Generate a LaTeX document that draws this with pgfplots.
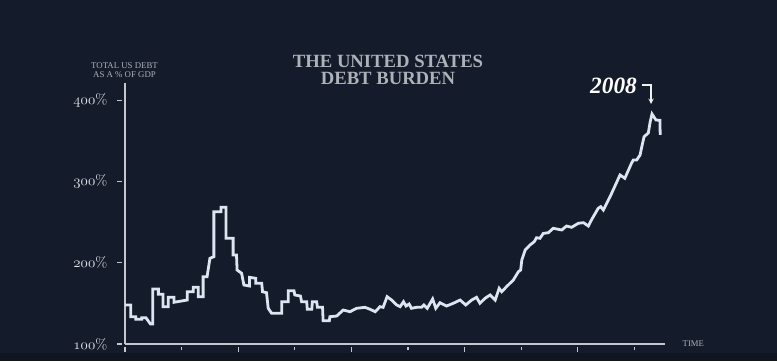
\documentclass[border=0pt]{standalone}
\usepackage{fontspec}
\newfontfamily\titlefont{Liberation Serif}
\usepackage{pgfplots}
\pgfplotsset{compat=1.18}
\definecolor{bg}{HTML}{141B2B}
\definecolor{bgdark}{HTML}{10151F}
\definecolor{linec}{HTML}{DCE6F0}
\definecolor{axisc}{HTML}{C4C8CC}
\definecolor{titlec}{HTML}{AEB2B8}
\definecolor{labc}{HTML}{DDE0E4}
\newcommand{\osn}[1]{$\mathnormal{#1}$}
\begin{document}
\begin{tikzpicture}
\path[use as bounding box] (0,0) rectangle (582.75pt,270.75pt);
\clip (0,0) rectangle (582.75pt,270.75pt);
\fill[bg] (0,0) rectangle (582.75pt,270.75pt);
\fill[bgdark] (0,0) rectangle (582.75pt,6pt);
\begin{axis}[
  at={(93.75pt,12.75pt)}, anchor=south west,
  width=405pt, height=195.75pt, scale only axis,
  xmin=1915, xmax=2010.4, ymin=100, ymax=421,
  axis lines=left,
  axis line style={-, draw=axisc, line width=1.3pt},
  x axis line style={-}, y axis line style={-},
  xtick={1915,1935,1955,1975,1995},
  xticklabels={},
  minor xtick={1925,1945,1965,1985,2005},
  ytick={100,200,300,400},
  yticklabels={\osn{100}\%,\osn{200}\%,\osn{300}\%,\osn{400}\%},
  tick align=outside,
  major tick length=3.75pt, minor tick length=2pt,
  xtick style={draw=axisc, line width=0.8pt, yshift=-2.5pt},
  ytick style={draw=axisc, line width=0.8pt, xshift=-2pt},
  yticklabel style={font=\fontsize{11}{12}\selectfont, text=labc, anchor=east, xshift=-6pt},
  clip=false,
]
\addplot[linec, line width=2.1pt, mark=none] coordinates {
(1915.0,148) (1916.0,148) (1916.0,133.6) (1916.9,133.6) (1916.9,130.4)
(1917.95,130.4) (1917.95,132.3) (1918.7,132.3) (1919.5,124.6) (1919.9,124.6)
(1919.9,167.7) (1920.9,167.7) (1920.9,161.1) (1921.7,161.1) (1921.7,145.9)
(1922.65,145.9) (1922.65,157.4) (1923.65,157.4) (1923.65,151.3) (1926.0,154.1)
(1926.0,164.3) (1927.05,164.3) (1927.05,169.7) (1927.95,169.7) (1927.95,158.2)
(1928.8,158.2) (1928.8,182.8) (1929.5,182.8) (1930.0,205.4) (1930.7,207.4)
(1930.7,262.7) (1931.95,262.7) (1931.95,268.1) (1932.85,268.1) (1932.85,230.0)
(1934.1,230.0) (1934.1,209.5) (1934.7,209.5) (1934.8,191.0) (1935.6,187.0)
(1936.0,172.6) (1937.0,171.3) (1937.0,182.0) (1938.1,180.8) (1938.1,174.7)
(1939.15,174.7) (1939.3,164.3) (1940.0,163.1) (1940.3,143.9) (1940.9,137.8)
(1942.7,137.8) (1942.7,152.0) (1943.85,152.0) (1943.85,165.6) (1944.85,165.6)
(1945.0,160.3) (1946.0,159.0) (1946.2,152.0) (1947.1,152.0) (1947.2,142.7)
(1948.0,142.7) (1948.1,152.0) (1948.85,152.0) (1949.0,145.1) (1949.9,145.1)
(1950.0,128.7) (1951.1,128.7) (1951.2,133.6) (1952.4,134.4) (1953.55,141.8)
(1954.75,139.7) (1955.9,143.9) (1957.4,145.1) (1958.3,142.7) (1959.2,139.7)
(1960.05,145.9) (1960.6,145.1) (1961.3,158.2) (1962.1,154.1) (1963.0,148.0)
(1963.6,145.9) (1964.2,152.0) (1964.65,146.7) (1965.2,149.2) (1965.6,143.9)
(1966.5,145.1) (1967.4,145.1) (1967.8,148.0) (1968.4,143.9) (1969.35,155.4)
(1969.9,143.9) (1970.65,150.8) (1971.8,146.7) (1973.0,150.1) (1974.2,154.1)
(1975.2,148.0) (1976.25,154.1) (1977.1,157.4) (1977.7,150.1) (1978.6,156.2)
(1979.5,160.3) (1980.4,154.1) (1981.1,168.5) (1981.55,164.3) (1982.4,170.5)
(1983.6,178.7) (1984.5,188.9) (1984.9,191.0) (1985.1,203.3) (1985.7,215.6)
(1986.55,221.8) (1987.3,225.8) (1987.7,230.7) (1988.3,230.0) (1988.9,236.0)
(1989.8,236.9) (1990.65,242.3) (1992.15,240.2) (1993.0,245.1) (1993.9,243.5)
(1995.1,248.5) (1996.0,249.2) (1996.85,245.1) (1997.5,253.8) (1998.6,266.9)
(1999.05,268.9) (1999.5,264.8) (2000.7,281.2) (2002.45,307.9) (2003.3,303.8)
(2004.5,322.6) (2004.8,326.3) (2005.4,326.3) (2006.0,332.5) (2006.3,342.7)
(2006.7,355.0) (2007.45,359.5) (2007.75,372.2) (2008.1,382.9) (2008.8,375.5)
(2009.5,375.1) (2009.55,357.1)
};
\end{axis}
\begin{scope}[x=0.75pt,y=-0.75pt,yshift=270.75pt]
\node[text=titlec, font=\titlefont\fontsize{14}{12.5}\selectfont\bfseries, align=center] at (388,70) {THE UNITED STATES\\DEBT BURDEN};
\node[text=titlec, font=\titlefont\fontsize{6.6}{6.75}\selectfont, align=center] at (124.5,70.5) {TOTAL US DEBT\\AS A \% OF GDP};
\node[text=titlec, font=\titlefont\fontsize{6.5}{6.5}\selectfont] at (693.3,343.7) {TIME};
\node[text=white, font=\titlefont\fontsize{17.5}{17.5}\selectfont\bfseries\itshape] at (613.5,85.5) {2008};
\draw[white!88!gray, line width=0.8pt, -stealth] (641.5,85) -- (651,85) -- (651,104);
\end{scope}
\end{tikzpicture}
\end{document}
